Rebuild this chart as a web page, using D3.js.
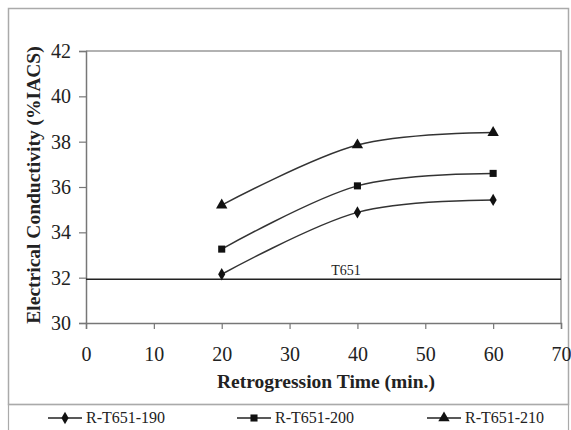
<!DOCTYPE html>
<html><head><meta charset="utf-8">
<script src="https://cdn.jsdelivr.net/npm/d3@7"></script>
<style>body{margin:0;background:#fff}svg{display:block}</style>
</head><body>
<svg id="c" width="571" height="430"></svg>
<script>
const times = [20, 40, 60];
const seriesNames = ["R-T651-190", "R-T651-200", "R-T651-210"];
const r190 = [32.15, 34.88, 35.43];
const r200 = [33.26, 36.05, 36.6];
const r210 = [35.2, 37.85, 38.4];
const t651 = 31.93;
const xTicks = [0, 10, 20, 30, 40, 50, 60, 70];
const yTicks = [30, 32, 34, 36, 38, 40, 42];
const symbols = [d3.symbolDiamond, d3.symbolSquare, d3.symbolTriangle];
const symSizes = [44, 50, 56];

const svg = d3.select("#c");
const font = "'Liberation Serif','Times New Roman',serif";
const L = 86, R = 561, T = 51, B = 323;
const x = d3.scaleLinear().domain([0, 70]).range([L, R]);
const y = d3.scaleLinear().domain([30, 42]).range([B, T]);

// outer frame
svg.append("rect").attr("x", 8.5).attr("y", 8.5).attr("width", 560).attr("height", 396)
  .attr("fill", "none").attr("stroke", "#aaa").attr("stroke-width", 1.5);
svg.append("rect").attr("x", 8.5).attr("y", 404.5).attr("width", 560).attr("height", 40)
  .attr("fill", "none").attr("stroke", "#aaa").attr("stroke-width", 1.2);

// plot frame (top/right gray)
svg.append("path").attr("d", `M${L},${T}H${R}V${B}`).attr("fill", "none")
  .attr("stroke", "#999").attr("stroke-width", 1.5);

// axes
const xAxis = d3.axisBottom(x).tickValues(xTicks).tickSize(6).tickPadding(18);
const gx = svg.append("g").attr("transform", `translate(0,${B})`).call(xAxis);
const yAxis = d3.axisLeft(y).tickValues(yTicks).tickSize(7).tickPadding(8);
const gy = svg.append("g").attr("transform", `translate(${L},0)`).call(yAxis);
[gx, gy].forEach(g => {
  g.select(".domain").attr("stroke", "#777").attr("stroke-width", 1.5);
  g.selectAll(".tick line").attr("stroke", "#777").attr("stroke-width", 1.2);
  g.selectAll(".tick text").attr("font-family", font).attr("font-size", 20).attr("fill", "#222");
});

// T651 reference line
svg.append("line").attr("x1", L).attr("x2", R).attr("y1", y(t651)).attr("y2", y(t651))
  .attr("stroke", "#222").attr("stroke-width", 1.5);
svg.append("text").attr("x", 346).attr("y", y(t651) - 4).attr("text-anchor", "middle")
  .attr("font-family", font).attr("font-size", 14).attr("fill", "#222").text("T651");

// series
const allSeries = [r190, r200, r210];
const line = d3.line().x((d, i) => x(times[i])).y(d => y(d)).curve(d3.curveCardinal.tension(0));
allSeries.forEach((vals, k) => {
  svg.append("path").datum(vals).attr("d", line).attr("fill", "none")
    .attr("stroke", "#333").attr("stroke-width", 1.5);
  svg.selectAll(null).data(vals).enter().append("path")
    .attr("transform", (d, i) => `translate(${x(times[i])},${y(d)})`)
    .attr("d", d3.symbol().type(symbols[k]).size(symSizes[k]))
    .attr("fill", "#111");
});

// axis titles
svg.append("text").attr("x", 326).attr("y", 388).attr("text-anchor", "middle")
  .attr("font-family", font).attr("font-size", 19.5).attr("font-weight", "bold").attr("fill", "#222")
  .text("Retrogression Time (min.)");
svg.append("text").attr("transform", `translate(40,${(T + B) / 2 - 2}) rotate(-90)`)
  .attr("text-anchor", "middle")
  .attr("font-family", font).attr("font-size", 19.5).attr("font-weight", "bold").attr("fill", "#222")
  .text("Electrical Conductivity (%IACS)");

// legend
const legX = [48, 237, 427];
seriesNames.forEach((name, k) => {
  const g = svg.append("g").attr("transform", `translate(${legX[k]},418)`);
  g.append("line").attr("x1", 0).attr("x2", 34).attr("stroke", "#222").attr("stroke-width", 1.5);
  g.append("path").attr("transform", "translate(17,0)")
    .attr("d", d3.symbol().type(symbols[k]).size(symSizes[k])).attr("fill", "#111");
  g.append("text").attr("x", 38).attr("y", 5).attr("font-family", font).attr("font-size", 16)
    .attr("fill", "#222").text(name);
});
</script>
</body></html>
